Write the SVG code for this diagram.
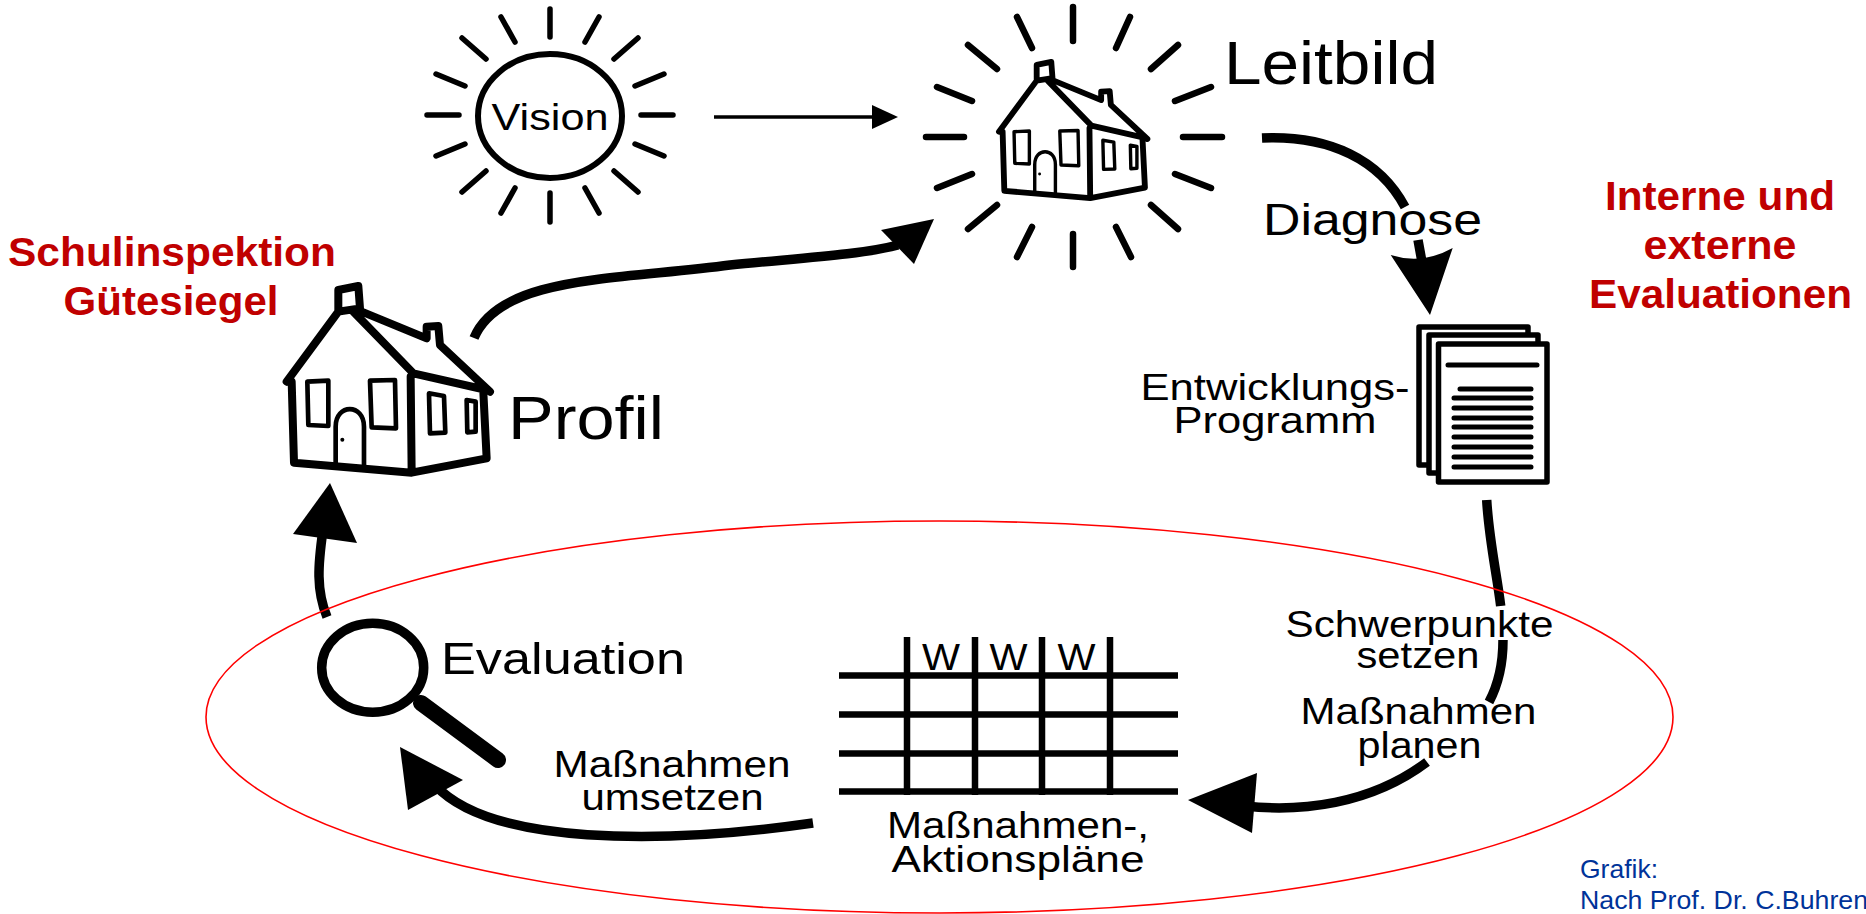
<svg xmlns="http://www.w3.org/2000/svg" xmlns:xlink="http://www.w3.org/1999/xlink" width="1866" height="914" viewBox="0 0 1866 914">
<style>
text{font-family:"Liberation Sans",Arial,sans-serif;fill:#000;text-anchor:middle;font-size:37px}
.r{font-size:40px;font-weight:bold;fill:#c00000}
.s{text-anchor:start}
.b{font-size:62px}
.c{font-size:25px;fill:#003399;text-anchor:start}
.ray{stroke:#000;fill:none;stroke-linecap:round}
.conn{fill:none;stroke:#000;stroke-width:9.500}
.h{fill:none;stroke:#000;stroke-linejoin:round;stroke-linecap:round}
.ln{stroke:#000;stroke-width:5;stroke-linecap:round;fill:none}
.sh{fill:#fff;stroke:#000;stroke-width:5.500;stroke-linejoin:round}
.gr{stroke:#000;stroke-width:6.500;fill:none}
</style>
<defs>
<g id="house">
<path class="h" stroke-width="24" d="M50,335L205,125L205,60L265,48L270,115L205,125M65,335L72,578L425,608L650,565L640,365M422,320L425,608M250,125L430,310L650,360M275,125L470,205L470,170L505,168L510,225L660,365"/>
<path class="h" stroke-width="14" d="M112,335L175,332L175,468L115,465ZM300,332L375,330L378,475L305,472ZM477,370L522,378L526,488L480,490ZM590,390L617,395L617,485L592,487ZM197,580V470C197,400 282,400 282,470V585"/>
<circle cx="217" cy="509" r="6" fill="#000"/>
</g>
</defs>
<g id="connectors">
<path d="M714,117H875" fill="none" stroke="#000" stroke-width="3.500"/><path d="M898,117L872,105V129Z"/>
<path class="conn" d="M474,338C500,275 620,280 730,265C800,258 860,255 898,245"/><path d="M934,219L881,230L914,264Z"/>
<path class="conn" d="M1262,138C1330,135 1380,160 1405,207M1418,240L1422,262"/><path d="M1430,315L1390.700,255Q1422,265 1452.700,248Z"/>
<path class="conn" d="M1486.700,500C1489,540 1497,575 1500.700,606M1503,640C1503,665 1498,685 1489,702"/>
<path class="conn" d="M1427,762C1370,805 1300,812 1245,806"/><path d="M1188,800L1257,773L1252,833Z"/>
<path class="conn" d="M813,823C660,845 490,845 435,785"/><path d="M400,747L463,780L408,810Z"/>
<path class="conn" d="M327,617C316,590 318,565 323,530"/><path d="M330,483L293,534L357,543Z"/>
</g>
<g id="scope"><ellipse cx="939.5" cy="717" rx="733.5" ry="196" fill="none" stroke="#f00" stroke-width="1.600"/></g>
<g id="vision">
<path class="ray" stroke-width="5.500" d="M550,9V37M550,193V222M427,115H459M641,115H673M462,38L486,59M638,38L614,59M501,17L515,42M599,17L585,42M436,74L465,86M664,74L635,86M436,156L465,144M664,156L635,144M462,192L486,171M638,192L614,171M501,213L515,188M599,213L585,188"/>
<ellipse cx="550" cy="116" rx="72" ry="62" fill="#fff" stroke="#000" stroke-width="6"/>
<text x="550" y="130" textLength="117" lengthAdjust="spacingAndGlyphs">Vision</text>
</g>
<g id="leitbild">
<path class="ray" stroke-width="6.500" d="M1073,7V41M1073,234V267M926,137H964M1183,137H1222M1017,17L1032,48M1130,17L1116,48M968,45L997,69M1178,45L1151,69M937,87L972,101M1211,87L1175,101M972,174L937,188M1175,174L1211,188M997,205L968,229M1151,205L1178,229M1032,227L1017,257M1116,227L1131,257"/>
<use xlink:href="#house" href="#house" transform="translate(986.8,50.2) scale(.2433)"/>
<text class="b s" x="1224" y="84" textLength="214" lengthAdjust="spacingAndGlyphs">Leitbild</text>
</g>
<g id="profil">
<use xlink:href="#house" href="#house" transform="translate(270,270) scale(.3333)"/>
<text class="b s" x="508" y="439" textLength="156" lengthAdjust="spacingAndGlyphs">Profil</text>
</g>
<g id="schulinspektion">
<text class="r" x="172" y="266" textLength="328" lengthAdjust="spacingAndGlyphs">Schulinspektion</text>
<text class="r" x="171" y="315" textLength="215" lengthAdjust="spacingAndGlyphs">Gütesiegel</text>
</g>
<g id="evaluationen">
<text class="r" x="1720" y="210" textLength="230" lengthAdjust="spacingAndGlyphs">Interne und</text>
<text class="r" x="1720" y="259" textLength="153" lengthAdjust="spacingAndGlyphs">externe</text>
<text class="r" x="1720.500" y="308" textLength="263" lengthAdjust="spacingAndGlyphs">Evaluationen</text>
</g>
<g id="diagnose">
<text x="1372.500" y="235" style="font-size:44px" textLength="219" lengthAdjust="spacingAndGlyphs">Diagnose</text>
</g>
<g id="entwicklungsprogramm">
<text x="1275" y="400" textLength="269" lengthAdjust="spacingAndGlyphs">Entwicklungs-</text>
<text x="1275" y="433" textLength="203" lengthAdjust="spacingAndGlyphs">Programm</text>
<rect class="sh" x="1419" y="327" width="109" height="138"/>
<rect class="sh" x="1429" y="335" width="109" height="138"/>
<rect class="sh" x="1438.5" y="344" width="108.500" height="138"/>
<path class="ln" d="M1448,365H1537M1460,389H1531M1454,398H1531M1454,408H1531M1454,418H1531M1454,427H1531M1454,437H1531M1454,447H1531M1454,457H1531M1454,467H1531"/>
</g>
<g id="schwerpunkte">
<text x="1419.500" y="636.500" textLength="268" lengthAdjust="spacingAndGlyphs">Schwerpunkte</text>
<text x="1418" y="668" textLength="123" lengthAdjust="spacingAndGlyphs">setzen</text>
</g>
<g id="massnahmen-planen">
<text x="1418.500" y="724" textLength="236" lengthAdjust="spacingAndGlyphs">Maßnahmen</text>
<text x="1419.500" y="757.500" textLength="124" lengthAdjust="spacingAndGlyphs">planen</text>
</g>
<g id="plan">
<path class="gr" d="M839,675.500H1178M839,714.500H1178M839,753.500H1178M839,791.500H1178M907,637V795M975,637V795M1042,637V795M1110,637V795"/>
<text x="941" y="670" textLength="38" lengthAdjust="spacingAndGlyphs">W</text>
<text x="1008.500" y="670" textLength="38" lengthAdjust="spacingAndGlyphs">W</text>
<text x="1076.500" y="670" textLength="38" lengthAdjust="spacingAndGlyphs">W</text>
<text x="1018" y="838" textLength="262" lengthAdjust="spacingAndGlyphs">Maßnahmen-,</text>
<text x="1018" y="871.500" textLength="253" lengthAdjust="spacingAndGlyphs">Aktionspläne</text>
</g>
<g id="massnahmen-umsetzen">
<text x="672" y="777" textLength="237" lengthAdjust="spacingAndGlyphs">Maßnahmen</text>
<text x="672.500" y="810" textLength="182" lengthAdjust="spacingAndGlyphs">umsetzen</text>
</g>
<g id="evaluation">
<ellipse cx="372.700" cy="667.700" rx="51" ry="44.500" fill="none" stroke="#000" stroke-width="9.500"/>
<path d="M421,703L498,760" stroke="#000" stroke-width="16" stroke-linecap="round" fill="none"/>
<text class="s" x="441" y="674" style="font-size:45px" textLength="244" lengthAdjust="spacingAndGlyphs">Evaluation</text>
</g>
<g id="credit">
<text class="c" x="1580" y="878" textLength="78" lengthAdjust="spacingAndGlyphs">Grafik:</text>
<text class="c" x="1580" y="909" textLength="288" lengthAdjust="spacingAndGlyphs">Nach Prof. Dr. C.Buhren</text>
</g>
</svg>
